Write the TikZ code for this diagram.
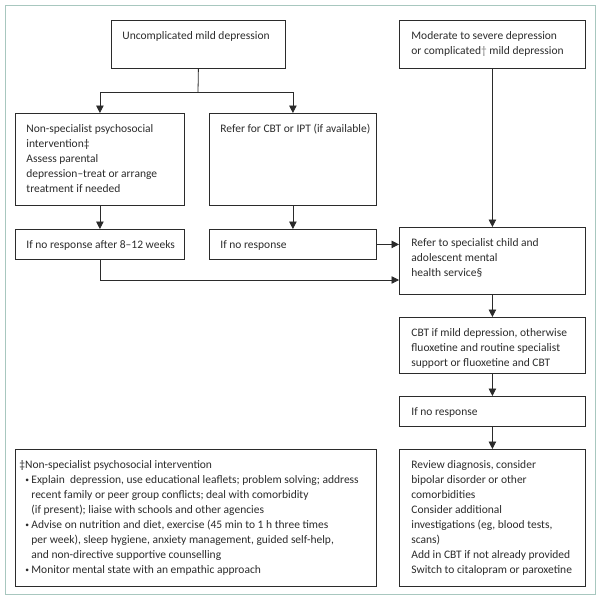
\documentclass[tikz,border=0pt]{standalone}
\usepackage{fontspec}
\setmainfont{Carlito}
\usetikzlibrary{positioning}
\usetikzlibrary{arrows.meta}
\definecolor{ink}{rgb}{0.17,0.17,0.17}
\definecolor{rim}{rgb}{0.66,0.78,0.75}

\newcommand{\cellbox}[4][11pt]{\parbox[c][#3pt][t]{#2pt}{\raggedright\leftskip=#1\rule{0pt}{19pt}#4}}
\newcommand{\bul}{\par\hangindent=12pt\hangafter=1\hspace*{6pt}%
  \makebox[6pt][l]{\raisebox{0.8pt}{\fontsize{7.5}{7.5}\selectfont\textbullet}}}

\tikzset{
  cell/.style={draw=ink, line width=0.8pt, anchor=north west, inner sep=0pt,
    text=ink, font=\fontsize{11.5}{15}\selectfont},
  link/.style={draw=ink, line width=0.8pt},
  arr/.style={link, -{Triangle[width=7.5pt,length=7.5pt]}}
}

\begin{document}
\begin{tikzpicture}[x=1pt,y=-1pt]

  \useasboundingbox (0,0) rectangle (601,600);
  \draw[rim, line width=0.9pt] (5,5) rectangle (595,594);

  \node[cell] (mild) at (111,20) {\cellbox{174}{48}{Uncomplicated mild depression}};
  \node[cell] (severe) at (399,20) {\cellbox[12pt]{186}{48}{Moderate to severe depression\\
    or complicated\textcolor{gray}{†} mild depression}};

  \node[cell] (nonspec) at (15,113) {\cellbox{169}{92}{Non-specialist psychosocial\\
    intervention‡\\Assess parental\\depression–treat or arrange\\treatment if needed}};
  \node[cell] (refercbt) at (209,113) {\cellbox{167}{92}{Refer for CBT or IPT (if available)}};

  \node[cell] (wait1) at (15,229) {\cellbox{169}{30}{If no response after 8–12 weeks}};
  \node[cell] (wait2) at (209,229) {\cellbox{167}{30}{If no response}};

  \node[cell] (specialist) at (399,227) {\cellbox[12pt]{186}{67}{Refer to specialist child and\\
    adolescent mental\\health service§}};
  \node[cell] (treat) at (399,317) {\cellbox[12pt]{186}{56}{CBT if mild depression, otherwise\\
    fluoxetine and routine specialist\\support or fluoxetine and CBT}};
  \node[cell] (wait3) at (399,396) {\cellbox[12pt]{186}{30}{If no response}};
  \node[cell] (review) at (399,449) {\cellbox[12pt]{186}{137}{Review diagnosis, consider\\
    bipolar disorder or other\\comorbidities\\Consider additional\\
    investigations (eg, blood tests,\\scans)\\Add in CBT if not already provided\\
    Switch to citalopram or paroxetine}};

  % footnote
  \node[cell] (notes) at (15,449) {\cellbox[4pt]{361}{137}{‡Non-specialist psychosocial intervention
    \bul Explain\ \ depression, use educational leaflets; problem solving; address\newline
    recent family or peer group conflicts; deal with comorbidity\newline
    (if present); liaise with schools and other agencies
    \bul Advise on nutrition and diet, exercise (45 min to 1 h three times\newline
    per week), sleep hygiene, anxiety management, guided self-help,\newline
    and non-directive supportive counselling
    \bul Monitor mental state with an empathic approach}};

  \coordinate (fork) at (198,92);
  \coordinate (back) at (100,280);

  \draw[link] (mild.south) -- (fork);
  \draw[arr] (fork) -| (nonspec.north);
  \draw[arr] (fork) -| (refercbt.north);
  \draw[arr] (nonspec.south) -- (wait1.north);
  \draw[arr] (refercbt.south) -- (wait2.north);
  \draw[arr] (wait2.east) -- (wait2.east -| specialist.west);
  \draw[arr] (wait1.south) |- (back -| specialist.west);
  \draw[arr] (severe.south) -- (specialist.north);
  \draw[arr] (specialist.south) -- (treat.north);
  \draw[arr] (treat.south) -- (wait3.north);
  \draw[arr] (wait3.south) -- (review.north);

\end{tikzpicture}
\end{document}
